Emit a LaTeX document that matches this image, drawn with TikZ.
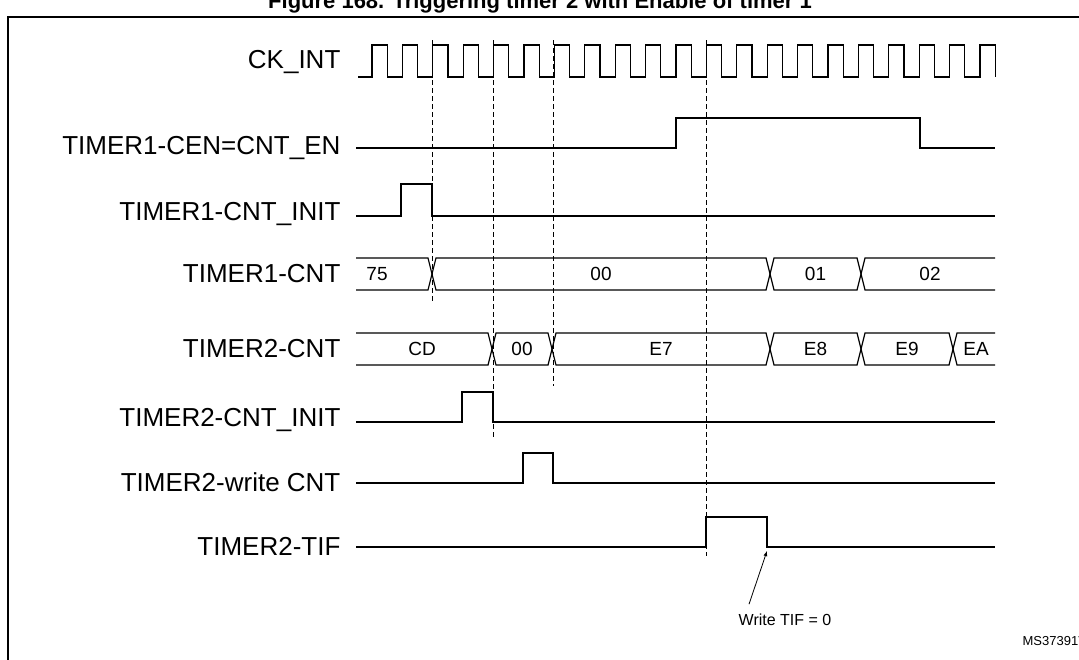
\documentclass[tikz,border=0pt]{standalone}
\usepackage{fontspec}
\setmainfont{Liberation Sans}
\usetikzlibrary{calc,arrows}
\newcommand{\busseg}[4]{
  \draw (#1,#3) -- ++(4,-16) -- ($(#2,#3)+(-4,-16)$) -- (#2,#3)
        -- ($(#2,#3)+(-4,16)$) -- ($(#1,#3)+(4,16)$) -- cycle;
  \node at ($(#1,#3)!0.5!(#2,#3)$) {#4};
}

\begin{document}
\begin{tikzpicture}[x=1pt,y=-1pt,line width=1.2pt,font=\fontsize{19}{22}\selectfont]
\tikzstyle{siglabel}=[anchor=east,font=\fontsize{26}{30}\selectfont,inner sep=0pt]
\tikzstyle{guide}=[line width=0.6pt,dash pattern=on 5pt off 3pt]
\useasboundingbox (0,0) rectangle (1079,659);
\begin{scope}
\clip (0,0) rectangle (1079,659);
\node[font=\bfseries\fontsize{22}{24}\selectfont] (title) at (540,3) {Figure 168. Triggering timer 2 with Enable of timer 1};
\draw[line width=1.4pt] (8,700) -- (8,17) -- (1100,17);
\end{scope}

% signal names
\node[siglabel] (ck) at (341,62) {CK\_INT};
\node[siglabel] (cen) at (341,148) {TIMER1-CEN=CNT\_EN};
\node[siglabel] (init1) at (341,214) {TIMER1-CNT\_INIT};
\node[siglabel] (cnt1) at (341,274) {TIMER1-CNT};
\node[siglabel] (cnt2) at (341,349) {TIMER2-CNT};
\node[siglabel] (init2) at (341,420) {TIMER2-CNT\_INIT};
\node[siglabel] (wcnt) at (341,482) {TIMER2-write CNT};
\node[siglabel] (tif) at (341,546) {TIMER2-TIF};

% clock
\def\T{30.4}
\draw (358,77) -- (372,77)
  \foreach \k in {0,...,20} {
    -- ({372+\k*\T},77) -- ({372+\k*\T},45) -- ({372+(\k+0.5)*\T},45) -- ({372+(\k+0.5)*\T},77)
  };

% levels
\draw (356,148) -- (676,148) -- (676,118) -- (920,118) -- (920,148) -- (995,148);
\draw (356,216) -- (401,216) -- (401,184) -- (432,184) -- (432,216) -- (995,216);
\draw (356,422) -- (462,422) -- (462,392) -- (493,392) -- (493,422) -- (995,422);
\draw (356,483) -- (523,483) -- (523,453) -- (553,453) -- (553,483) -- (995,483);
\draw (356,547) -- (706,547) -- (706,517) -- (767,517) -- (767,547) -- (995,547);

% buses
\draw (356,258) -- (428,258) -- (432,274) -- (428,290) -- (356,290);
\node at (377,274) {75};
\busseg{432}{770}{274}{00}
\busseg{770}{861}{274}{01}
\draw (861,274) -- ++(4,-16) -- (995,258) (861,274) -- ++(4,16) -- (995,290);
\node at (930,274) {02};

\draw (356,333) -- (488,333) -- (492,349) -- (488,365) -- (356,365);
\node at (422,349) {CD};
\busseg{492}{552}{349}{00}
\busseg{552}{770}{349}{E7}
\busseg{770}{861}{349}{E8}
\busseg{861}{953}{349}{E9}
\draw (953,349) -- ++(4,-16) -- (995,333) (953,349) -- ++(4,16) -- (995,365);
\node at (976,349) {EA};

% guides
\draw[guide] (432,40) -- (432,303);
\draw[guide] (493,40) -- (493,437);
\draw[guide] (553,40) -- (553,386);
\draw[guide] (706,40) -- (706,556);

% note
\node[font=\fontsize{16}{19}\selectfont] (wtif) at (785,620) {Write TIF = 0};
\coordinate (tifedge) at (767,551);
\draw[-latex,line width=0.8pt] ($(wtif.north)+(-36,-6)$) -- (tifedge);
\node[font=\fontsize{13}{15}\selectfont,anchor=west,inner sep=0pt] (msid) at (1022,641) {MS37391V1};
\end{tikzpicture}
\end{document}
